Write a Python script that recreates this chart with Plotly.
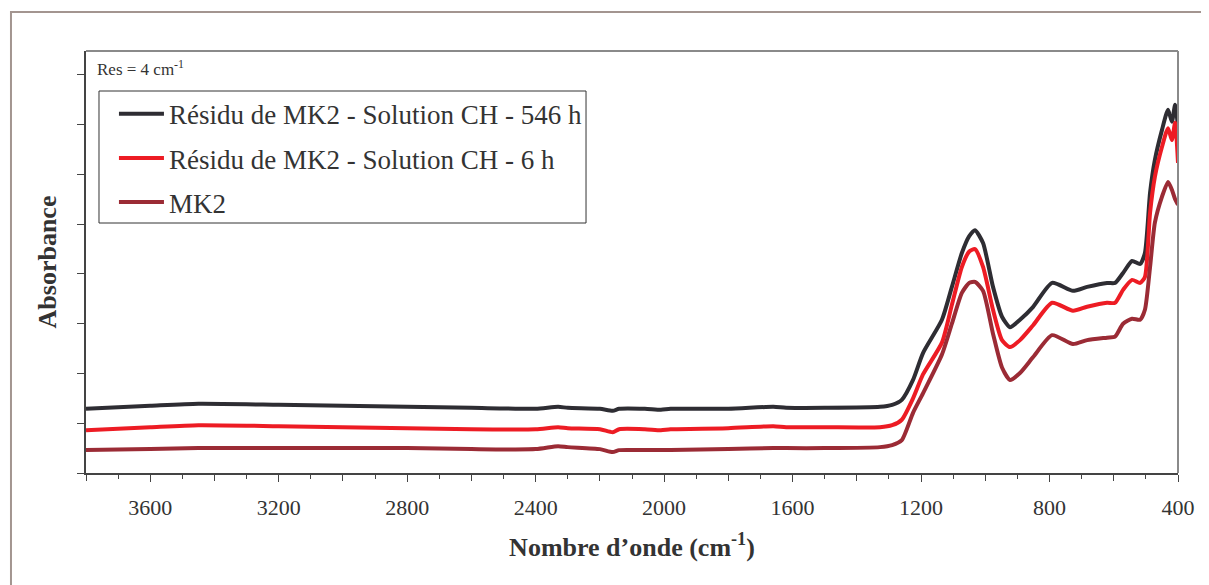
import plotly.graph_objects as go

# Wavenumbers (cm-1) shared by the three spectra
wavenumber = [3800, 3600, 3450, 3200, 3000, 2800, 2600, 2400, 2330, 2300, 2200, 2160, 2140,
              2060, 2010, 1980, 1800, 1660, 1620, 1500, 1328, 1290, 1260, 1225, 1194, 1135,
              1104, 1073, 1050, 1032, 1007, 976, 948, 923, 892, 851, 792, 727, 683, 621,
              596, 571, 543, 518, 503, 487, 472, 450, 431, 419, 409, 400]

abs_546h = [0.129, 0.135, 0.139, 0.137, 0.135, 0.133, 0.131, 0.129, 0.133, 0.131, 0.129, 0.125, 0.129,
            0.129, 0.127, 0.129, 0.129, 0.133, 0.131, 0.131, 0.133, 0.137, 0.147, 0.187, 0.241, 0.308,
            0.374, 0.442, 0.476, 0.488, 0.462, 0.374, 0.314, 0.293, 0.308, 0.334, 0.382, 0.366, 0.374, 0.382,
            0.382, 0.402, 0.426, 0.420, 0.442, 0.563, 0.629, 0.689, 0.730, 0.706, 0.740, 0.695]

abs_6h = [0.086, 0.092, 0.096, 0.094, 0.092, 0.090, 0.088, 0.088, 0.092, 0.090, 0.088, 0.082, 0.088,
          0.088, 0.086, 0.088, 0.090, 0.094, 0.092, 0.092, 0.092, 0.096, 0.107, 0.150, 0.198, 0.262,
          0.338, 0.414, 0.445, 0.450, 0.414, 0.328, 0.267, 0.253, 0.267, 0.297, 0.342, 0.326, 0.334, 0.342,
          0.342, 0.368, 0.388, 0.382, 0.394, 0.523, 0.595, 0.655, 0.693, 0.669, 0.704, 0.623]

abs_mk2 = [0.046, 0.048, 0.050, 0.050, 0.050, 0.050, 0.048, 0.048, 0.054, 0.052, 0.048, 0.042, 0.046,
           0.046, 0.046, 0.046, 0.048, 0.050, 0.050, 0.050, 0.052, 0.056, 0.066, 0.121, 0.160, 0.238,
           0.300, 0.362, 0.382, 0.384, 0.366, 0.280, 0.212, 0.187, 0.201, 0.233, 0.277, 0.259, 0.267, 0.272,
           0.274, 0.300, 0.310, 0.308, 0.328, 0.414, 0.503, 0.555, 0.585, 0.569, 0.550, 0.539]

series_names = ["Résidu de MK2 - Solution CH - 546 h",
                "Résidu de MK2 - Solution CH - 6 h",
                "MK2"]
series_colors = ["#2e2d33", "#ed1c24", "#9b2b35"]

x_labelled_ticks = list(range(3600, 399, -400))
x_mid_ticks = list(range(3800, 399, -400))
y_tickvals = [i / 10 for i in range(0, 9)]

FONT = "Liberation Serif, Times New Roman, serif"

fig = go.Figure()
for i, (name, ys, col) in enumerate(zip(series_names, [abs_546h, abs_6h, abs_mk2], series_colors)):
    fig.add_trace(go.Scatter(
        x=wavenumber, y=ys, name=name, mode="lines",
        line=dict(color=col, width=4, shape="spline", smoothing=0.6),
        legendgroup=f"g{i}",
    ))

fig.update_layout(
    width=1201, height=577,
    margin=dict(l=78, r=31, t=43, b=112),
    paper_bgcolor="white", plot_bgcolor="white",
    font=dict(family=FONT, color="#333333"),
    showlegend=True,
    legend=dict(
        x=0.0256, y=0.908, xanchor="left", yanchor="top",
        bgcolor="rgba(0,0,0,0)", borderwidth=0,
        font=dict(family=FONT, size=27, color="#333333"),
        tracegroupgap=6,
        itemwidth=45,
    ),
    xaxis=dict(
        range=[3800, 400], autorange=False,
        tickvals=x_labelled_ticks,
        ticks="outside", ticklen=7, tickcolor="#444444", tickwidth=1.2,
        ticklabelstandoff=7,
        minor=dict(dtick=100, ticks="outside", ticklen=4, tickcolor="#444444", tickwidth=1),
        showline=True, linecolor="#444444", linewidth=1.5,
        showgrid=False, zeroline=False,
        tickfont=dict(family=FONT, size=22, color="#333333"),
        title=dict(text="Nombre d’onde (cm<sup>-1</sup>)", standoff=19,
                   font=dict(family=FONT, size=26, color="#333333", weight="bold")),
    ),
    xaxis2=dict(
        overlaying="x", matches="x", side="bottom",
        tickvals=x_mid_ticks, showticklabels=False,
        ticks="outside", ticklen=7, tickcolor="#444444", tickwidth=1.2,
        showline=False, showgrid=False, zeroline=False,
    ),
    yaxis=dict(
        range=[0, 0.848], autorange=False,
        tickvals=y_tickvals, showticklabels=False,
        ticks="outside", ticklen=7, tickcolor="#444444", tickwidth=1.2,
        showline=True, linecolor="#444444", linewidth=1.5,
        showgrid=False, zeroline=False,
        title=dict(text="Absorbance", standoff=13,
                   font=dict(family=FONT, size=26, color="#333333", weight="bold")),
    ),
    shapes=[
        # outer frame
        dict(type="rect", xref="paper", yref="paper",
             x0=-0.0687, y0=-0.3, x1=1.04, y1=1.0924,
             line=dict(color="#a39590", width=2), fillcolor="rgba(0,0,0,0)", layer="below"),
        # top and right plot borders
        dict(type="line", xref="paper", yref="paper", x0=0, y0=1, x1=1, y1=1,
             line=dict(color="#8a8a8a", width=2)),
        dict(type="line", xref="paper", yref="paper", x0=1, y0=0, x1=1, y1=1,
             line=dict(color="#8a8a8a", width=2)),
        # legend frame
        dict(type="rect", xref="paper", yref="paper",
             x0=0.0119, y0=0.5924, x1=0.4579, y1=0.9052,
             line=dict(color="#333333", width=1), fillcolor="rgba(0,0,0,0)"),
    ],
    annotations=[
        dict(text="Res = 4 cm<sup>-1</sup>", xref="paper", yref="paper",
             x=0.008, y=0.99, xanchor="left", yanchor="top", showarrow=False,
             font=dict(family=FONT, size=17, color="#333333")),
    ],
)
# invisible helper trace on the overlay axis so its ticks are drawn
fig.add_trace(go.Scatter(x=[3800], y=[0], xaxis="x2", mode="markers",
                         marker=dict(opacity=0), showlegend=False, hoverinfo="skip"))

fig.write_html("out.html")
